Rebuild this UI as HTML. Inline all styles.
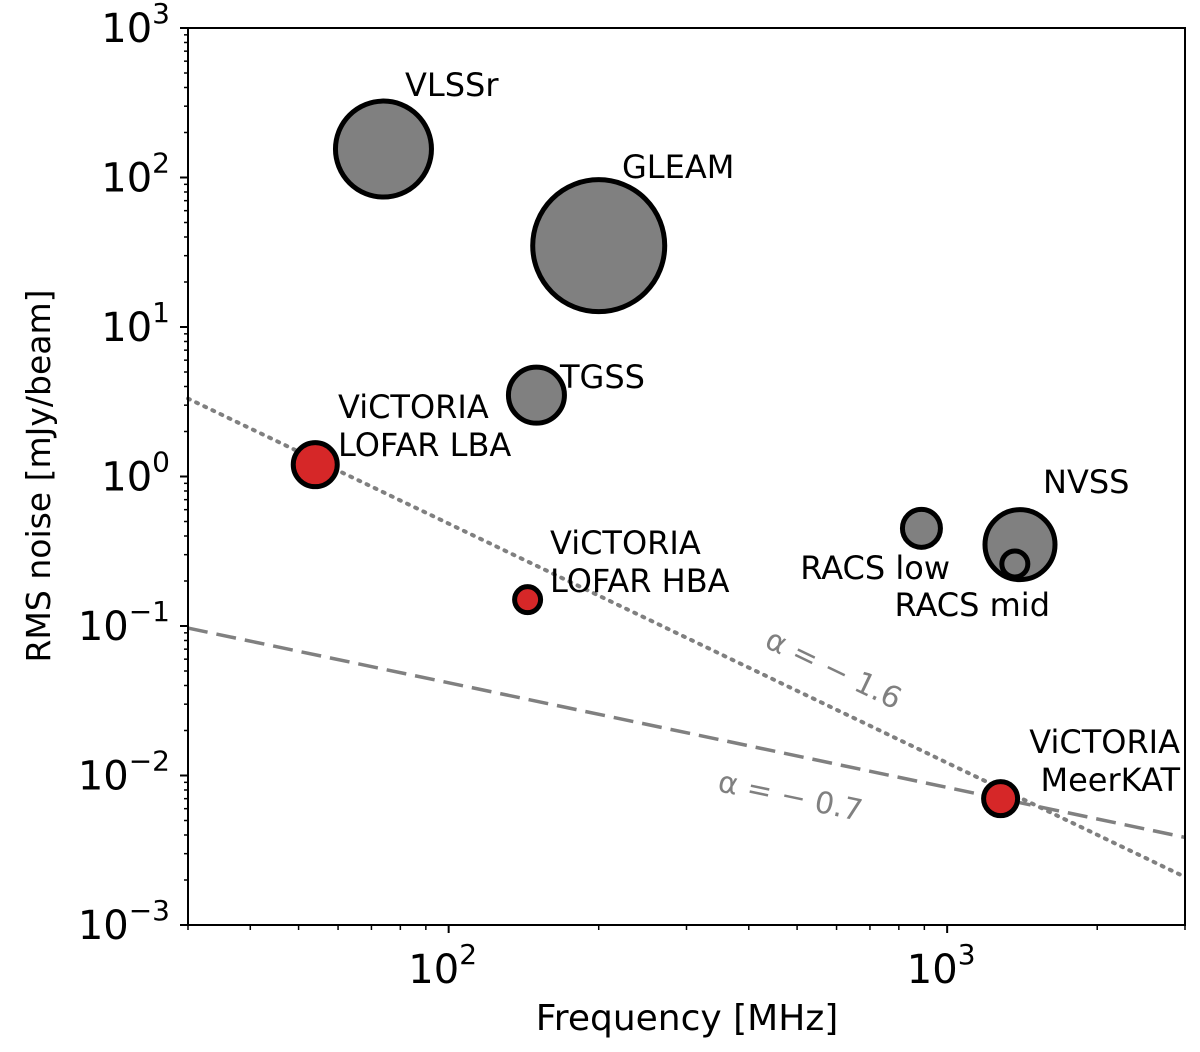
<!DOCTYPE html>
<html><head><meta charset="utf-8"><style>
body{margin:0;background:#fff}
svg text{font-family:"DejaVu Sans","Liberation Sans",sans-serif}
</style></head><body>
<svg id="chart" width="1200" height="1047" xmlns="http://www.w3.org/2000/svg">
<g id="lines"></g>
<g id="points"></g>
<g id="labels"></g>
<rect x="188" y="28" width="997" height="897" fill="none" stroke="#000" stroke-width="2"/>
<g id="axes"></g>
<text x="687" y="1030" font-size="36" text-anchor="middle">Frequency [MHz]</text>
<text transform="translate(50,476) rotate(-90)" font-size="33" text-anchor="middle">RMS noise [mJy/beam]</text>
</svg>
<script>
const names=["VLSSr","GLEAM","TGSS","ViCTORIA LOFAR LBA","ViCTORIA LOFAR HBA","RACS low","NVSS","RACS mid","ViCTORIA MeerKAT"];
const freqs=[74,200,150,54,144,888,1400,1367,1280];
const rms=[155,35,3.5,1.2,0.15,0.45,0.35,0.26,0.007];
const radii=[48,66,28,22,13,19,35,13,17];
const isVictoria=[0,0,0,1,1,0,0,0,1];
const alphas=[-1.6,-0.7];
const lineNorm=[1.17,1.0];
const yTicks=[-3,-2,-1,0,1,2,3];
const xTicks=[2,3];
const X0=188,X1=1185,Y0=28,Y1=925;
const lx0=Math.log10(30),lx1=Math.log10(3000);
const xs=f=>X0+(Math.log10(f)-lx0)/(lx1-lx0)*(X1-X0);
const ys=v=>Y1-(Math.log10(v)+3)/6*(Y1-Y0);
const NS="http://www.w3.org/2000/svg";
function mk(tag,parent,attrs){const e=document.createElementNS(NS,tag);for(const k in attrs)e.setAttribute(k,attrs[k]);parent.appendChild(e);return e;}
const L=document.getElementById('lines'),P=document.getElementById('points'),T=document.getElementById('labels'),A=document.getElementById('axes');
const f0=freqs[8],r0=rms[8];
alphas.forEach((a,i)=>{
 const v=f=>r0*lineNorm[i]*Math.pow(f/f0,a);
 const ln=mk('line',L,{x1:xs(30),y1:ys(v(30)),x2:xs(3000),y2:ys(v(3000)),stroke:'#808080','stroke-width':i==0?4:3.5,'stroke-dasharray':i==0?'2 7':'20 9','stroke-linecap':i==0?'round':'butt'});
 
 
 const fx=i==0?580:480, ang=Math.atan2(ys(v(fx*1.2))-ys(v(fx)),xs(fx*1.2)-xs(fx))*180/Math.PI;
 const px=xs(fx),py=ys(v(fx))+(i==0?-28:52);
 const t=mk('text',L,{x:px,y:py,'font-size':30,fill:'#808080','text-anchor':'middle',transform:`rotate(${ang} ${px} ${py})`});
 t.textContent='α = − '+Math.abs(a);
 
 
});
freqs.forEach((f,i)=>{
 const c=mk('circle',P,{cx:xs(f),cy:ys(rms[i]),r:radii[i],fill:isVictoria[i]?'#d62728':'#808080',stroke:'#000','stroke-width':5});
 
 
});
const lab=[[405,96,["VLSSr"],'start'],[622,178,["GLEAM"],'start'],[560,388,["TGSS"],'start'],[338,418,["ViCTORIA","LOFAR LBA"],'start'],[550,554,["ViCTORIA","LOFAR HBA"],'start'],[950,579,["RACS low"],'end'],[1043,493,["NVSS"],'start'],[1050,616,["RACS mid"],'end'],[1180,753,["ViCTORIA","MeerKAT"],'end']];
lab.forEach((l,i)=>{
 l[2].forEach((s,j)=>{
  const t=mk('text',T,{x:l[0],y:l[1]+j*38,'font-size':32,'text-anchor':l[3]});
  t.textContent=s;
  
  
 });
});
yTicks.forEach(e=>{
 const y=ys(Math.pow(10,e));
 const tk=mk('line',A,{x1:X0-8,y1:y,x2:X0,y2:y,stroke:'#000','stroke-width':2});
 
 
 const t=mk('text',A,{x:X0-18,y:y+14,'font-size':40,'text-anchor':'end'});
 t.innerHTML='10<tspan dy="-19" font-size="28">'+(e<0?'−'+(-e):e)+'</tspan>';
 
 
 if(e<3)for(let m=2;m<10;m++){const ym=ys(m*Math.pow(10,e));const mt=mk('line',A,{x1:X0-4,y1:ym,x2:X0,y2:ym,stroke:'#000','stroke-width':1.5});}
});
for(let d=1;d<=3;d++)for(let m=1;m<10;m++){const f=m*Math.pow(10,d);if(f<30||f>3000)continue;const x=xs(f);const mt=mk('line',A,{x1:x,y1:Y1,x2:x,y2:Y1+(m==1?8:5),stroke:'#000','stroke-width':m==1?2:1.5});}
xTicks.forEach(e=>{
 const t=mk('text',A,{x:xs(Math.pow(10,e))-6,y:Y1+58,'font-size':40,'text-anchor':'middle'});
 t.innerHTML='10<tspan dy="-19" font-size="28">'+e+'</tspan>';
 
 
});
</script>
</body></html>
